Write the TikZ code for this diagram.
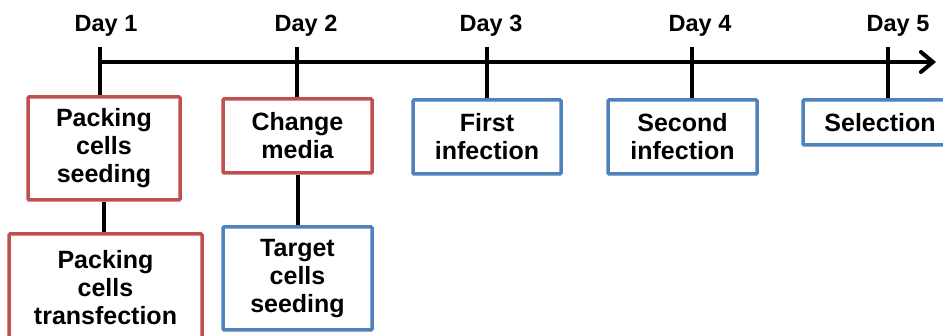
\documentclass[tikz,border=0pt]{standalone}
\usepackage{fontspec}
\setmainfont{Liberation Sans}
\usetikzlibrary{arrows.meta}
\definecolor{boxred}{RGB}{192,80,77}
\definecolor{boxblue}{RGB}{79,129,189}
\tikzset{
  daylabel/.style={anchor=base, font=\fontsize{23.5}{28}\selectfont\bfseries},
  stepbox/.style={draw, fill=white, line width=3.5pt, rounded corners=1pt,
    inner sep=0pt, align=center, font=\fontsize{25}{28}\selectfont\bfseries},
  redbox/.style={stepbox, draw=boxred},
  bluebox/.style={stepbox, draw=boxblue},
  timeline/.style={line width=4pt},
}

\begin{document}
\begin{tikzpicture}[x=1pt,y=-1pt]
  \useasboundingbox (0,0) rectangle (943,336);
  \clip (0,0) rectangle (943,336);
  % day labels and tick tops
  \node[daylabel] (day1) at (106,32) {Day 1};
  \node[daylabel] (day2) at (306,32) {Day 2};
  \node[daylabel] (day3) at (491,32) {Day 3};
  \node[daylabel] (day4) at (700,32) {Day 4};
  \node[daylabel] (day5) at (898,32) {Day 5};
  \coordinate (t1) at (100,47);
  \coordinate (t2) at (297,47);
  \coordinate (t3) at (487,47);
  \coordinate (t4) at (692,47);
  \coordinate (t5) at (888,47);
  \coordinate (axisend) at (936,62);
  % steps
  \node[redbox, minimum width=152, minimum height=103] (seed) at (104,148.5) {Packing\\cells\\seeding};
  \node[redbox, minimum width=193, minimum height=108] (transf) at (105.5,288) {Packing\\cells\\transfection};
  \node[redbox, minimum width=149, minimum height=74] (media) at (297.5,136) {Change\\media};
  \node[bluebox, minimum width=149, minimum height=103] (target) at (297.5,278.5) {Target\\cells\\seeding};
  \node[bluebox, minimum width=148, minimum height=74] (first) at (487,137) {First\\infection};
  \node[bluebox, minimum width=149, minimum height=74] (second) at (682.5,137) {Second\\infection};
  \node[bluebox, minimum width=154, minimum height=45] (select) at (880,122.5) {Selection};
  % time axis
  \draw[timeline, -{Straight Barb[length=12pt,width=20pt,line cap=round]}] (t1 |- axisend) -- (axisend);
  \draw[timeline] (t1) -- (t1 |- seed.north);
  \draw[timeline] (t2) -- (t2 |- media.north);
  \draw[timeline] (t3) -- (t3 |- first.north);
  \draw[timeline] (t4) -- (t4 |- second.north);
  \draw[timeline] (t5) -- (t5 |- select.north);
  \draw[timeline] (seed.south) -- (seed.south |- transf.north);
  \draw[timeline] (media.south) -- (media.south |- target.north);
\end{tikzpicture}
\end{document}
